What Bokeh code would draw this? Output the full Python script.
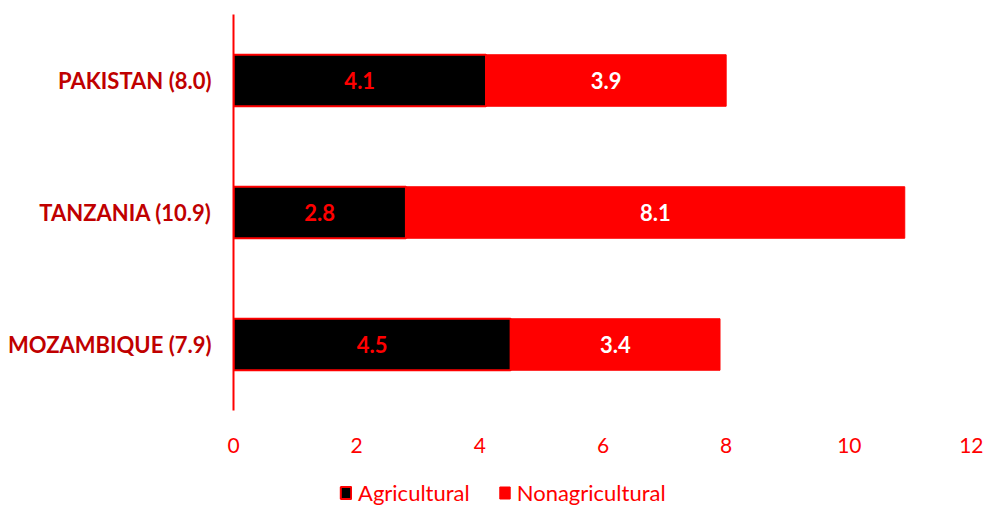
import numpy as np
from bokeh.plotting import figure
from bokeh.layouts import column
from bokeh.models import ColumnDataSource, FactorRange, Range1d, Legend, LegendItem, FixedTicker
from bokeh.core.properties import value
from bokeh.embed import file_html
from bokeh.resources import INLINE

countries = ["MOZAMBIQUE", "TANZANIA", "PAKISTAN"]
agricultural = [4.5, 2.8, 4.1]
nonagricultural = [3.4, 8.1, 3.9]
x_ticks = [0, 2, 4, 6, 8, 10, 12]
series_names = ["Agricultural", "Nonagricultural"]

totals = [a + n for a, n in zip(agricultural, nonagricultural)]
cats = [f"{c} ({t:.1f})" for c, t in zip(countries, totals)]

FONT = "Lato"
AGRI_STYLE = dict(fill_color="black", line_color="#FF0000", line_width=2)
NONAG_STYLE = dict(fill_color="#FF0000", line_color="#FF0000", line_width=1)

src = ColumnDataSource(dict(
    cat=cats,
    agri=agricultural,
    nonag=nonagricultural,
    total=totals,
    agri_mid=[a / 2 for a in agricultural],
    nonag_mid=[a + n / 2 for a, n in zip(agricultural, nonagricultural)],
    agri_lbl=[f"{a:.1f}" for a in agricultural],
    nonag_lbl=[f"{n:.1f}" for n in nonagricultural],
))

p = figure(width=983, height=470, y_range=FactorRange(*cats, range_padding=0),
           x_range=Range1d(0, 12), output_backend="svg", toolbar_location=None,
           min_border_left=233, min_border_right=11, min_border_top=14, min_border_bottom=60)
p.outline_line_color = None
p.grid.visible = False

p.hbar(y="cat", left=0, right="agri", height=0.39, source=src, **AGRI_STYLE)
p.hbar(y="cat", left="agri", right="total", height=0.39, source=src, **NONAG_STYLE)

p.text(x="agri_mid", y="cat", text="agri_lbl", source=src, text_align="center",
       text_baseline="middle", text_color="#FF0000", text_font=value(FONT),
       text_font_style="bold", text_font_size="22px")
p.text(x="nonag_mid", y="cat", text="nonag_lbl", source=src, text_align="center",
       text_baseline="middle", text_color="white", text_font=value(FONT),
       text_font_style="bold", text_font_size="22px")

xa = p.xaxis[0]
xa.ticker = FixedTicker(ticks=x_ticks)
xa.axis_line_color = None
xa.major_tick_line_color = None
xa.minor_tick_line_color = None
xa.major_label_text_color = "#FF0000"
xa.major_label_text_font = FONT
xa.major_label_text_font_size = "21px"
xa.major_label_standoff = 21

ya = p.yaxis[0]
ya.axis_line_color = "#FF0000"
ya.axis_line_width = 2
ya.major_tick_line_color = None
ya.minor_tick_line_color = None
ya.major_label_text_color = "#C00000"
ya.major_label_text_font = FONT
ya.major_label_text_font_style = "bold"
ya.major_label_text_font_size = "22px"
ya.major_label_standoff = 16

# legend strip below the chart; its swatch renderers hold no drawable point
lg = figure(width=983, height=36, x_range=Range1d(0, 1), y_range=Range1d(0, 1),
            output_backend="svg", toolbar_location=None,
            min_border_left=0, min_border_right=0, min_border_top=0, min_border_bottom=0)
lg.axis.visible = False
lg.grid.visible = False
lg.outline_line_color = None
swatch = ColumnDataSource(dict(y=np.array([np.nan]), left=np.array([np.nan]),
                               right=np.array([np.nan])))
g1 = lg.hbar(y="y", left="left", right="right", height=0.5, source=swatch, **AGRI_STYLE)
g2 = lg.hbar(y="y", left="left", right="right", height=0.5, source=swatch, **NONAG_STYLE)

legend = Legend(items=[LegendItem(label=series_names[0], renderers=[g1]),
                       LegendItem(label=series_names[1], renderers=[g2])],
                location=(106, 0), orientation="horizontal",
                border_line_color=None, background_fill_alpha=0,
                padding=0, margin=0, spacing=28, label_standoff=6,
                glyph_width=13, glyph_height=15,
                label_text_font=FONT, label_text_font_size="22px",
                label_text_color="#FF0000")
lg.add_layout(legend, "center")

layout = column(p, lg, spacing=0)
open("out.html", "w").write(file_html(layout, INLINE))
